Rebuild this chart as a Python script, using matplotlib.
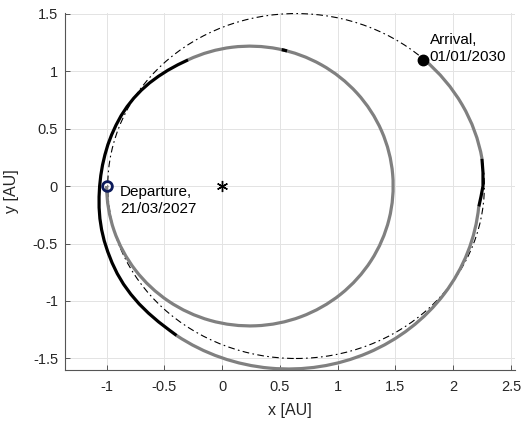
import matplotlib
matplotlib.use('Agg')
import matplotlib.pyplot as plt
from matplotlib.patches import Ellipse, Arc

plt.rcParams['font.family'] = ['Liberation Sans', 'DejaVu Sans']

# ---- orbits, heliocentric frame [AU] ----
# initial orbit (departure): centre, semi-axes, tilt [deg]
orb0_center = (0.2405, 0.0)
orb0_a, orb0_b, orb0_tilt = 1.24, 1.2166, 0.0
# intermediate orbit after the first burn
orb1_center = (0.565, -0.0266)
orb1_a, orb1_b, orb1_tilt = 1.6635, 1.5644, -2.7
# target orbit
target_center = (0.64, 0.0)
target_a, target_b = 1.63, 1.50

# coast arcs as (start, end) angles on their ellipse [deg]
coast1_span = (180.0, 115.96)   # departure -> burn 1
burn0_span = (74.7, 76.9)       # short burn on the first revolution
coast2_span = (-124.3, -2.56)   # burn 1 -> burn 2
coast3_span = (8.35, 44.8)      # burn 2 -> arrival

# burn 1: perihelion passage, raising the orbit
burn1_x = [-0.2941, -0.3837, -0.4695, -0.5510, -0.6281, -0.6994, -0.7644, -0.8227,
           -0.8741, -0.9180, -0.9561, -0.9886, -1.0142, -1.0350, -1.0500, -1.0600,
           -1.0649, -1.0646, -1.0577, -1.0431, -1.0205, -0.9898, -0.9527, -0.9077,
           -0.8535, -0.7900, -0.7181, -0.6380, -0.5506, -0.4562, -0.3940]
burn1_y = [1.0976, 1.0543, 1.0069, 0.9543, 0.8970, 0.8334, 0.7644, 0.6904,
           0.6120, 0.5300, 0.4458, 0.3598, 0.2718, 0.1825, 0.0919, 0.0000,
           -0.0932, -0.1877, -0.2834, -0.3796, -0.4759, -0.5715, -0.6671, -0.7617,
           -0.8535, -0.9414, -1.0256, -1.1050, -1.1809, -1.2536, -1.3000]

# burn 2: aphelion, matching the target orbit
burn2_x = [2.222, 2.2412, 2.258, 2.2579, 2.2492]
burn2_y = [-0.179, -0.090, 0.000, 0.1183, 0.2364]

dep_xy = (-1.0, 0.0)
arr_xy = (1.742, 1.095)
sun_xy = (0.0, 0.0)
dep_label = 'Departure,\n21/03/2027'
arr_label = 'Arrival,\n01/01/2030'

xticks = [-1, -0.5, 0, 0.5, 1, 1.5, 2, 2.5]
xticklabels = ['-1', '-0.5', '0', '0.5', '1', '1.5', '2', '2.5']
yticks = [-1.5, -1, -0.5, 0, 0.5, 1, 1.5]
yticklabels = ['-1.5', '-1', '-0.5', '0', '0.5', '1', '1.5']

GRAY = '#808080'
NAVY = '#0c1a5a'
TXT = '#262626'
LW = 2.3

fig = plt.figure(figsize=(5.24, 4.26), dpi=100)
ax = fig.add_axes([0.1240, 0.1315, 0.8588, 0.8380])

ax.add_patch(Ellipse(target_center, 2 * target_a, 2 * target_b, fill=False,
                     edgecolor='k', lw=0.8, linestyle=(0, (6, 3, 1.5, 3)), zorder=2))


def orbit_arc(center, a, b, tilt, span, color):
    ax.add_patch(Arc(center, 2 * a, 2 * b, angle=tilt, theta1=span[0], theta2=span[1],
                     edgecolor=color, lw=LW, capstyle='butt', zorder=3))


orbit_arc(orb0_center, orb0_a, orb0_b, orb0_tilt, coast1_span, GRAY)
orbit_arc(orb0_center, orb0_a, orb0_b, orb0_tilt, burn0_span, 'k')
orbit_arc(orb1_center, orb1_a, orb1_b, orb1_tilt, coast2_span, GRAY)
orbit_arc(target_center, target_a, target_b, 0.0, coast3_span, GRAY)
ax.plot(burn1_x, burn1_y, color='k', lw=LW, solid_capstyle='butt', zorder=4)
ax.plot(burn2_x, burn2_y, color='k', lw=LW, solid_capstyle='butt', zorder=4)

ax.plot(*sun_xy, marker=(6, 2, 0), color='k', ms=8, mew=1.0, zorder=5)
ax.plot(*dep_xy, marker='o', mfc='none', mec=NAVY, ms=7, mew=2.0, zorder=6)
ax.plot(*arr_xy, marker='o', color='k', ms=7.5, zorder=6)

ax.text(-0.885, -0.125, dep_label, fontsize=11, color='k', va='center', ha='left',
        linespacing=1.25, zorder=7)
ax.text(1.797, 1.197, arr_label, fontsize=11, color='k', va='center', ha='left',
        linespacing=1.25, zorder=7)

ax.set_xlim(-1.36, 2.535)
ax.set_ylim(-1.6, 1.505)
ax.set_xticks(xticks)
ax.set_xticklabels(xticklabels)
ax.set_yticks(yticks)
ax.set_yticklabels(yticklabels)
ax.grid(True, color='#e3e3e3', lw=0.7)
ax.set_axisbelow(True)
for s in ['top', 'right']:
    ax.spines[s].set_visible(False)
for s in ['left', 'bottom']:
    ax.spines[s].set_color('#555555')
    ax.spines[s].set_linewidth(0.8)
ax.tick_params(direction='in', length=3.5, width=0.7, color='#555555',
               labelsize=10.5, labelcolor=TXT)
ax.tick_params(axis='x', pad=7)
ax.tick_params(axis='y', pad=5)
ax.set_xlabel('x [AU]', fontsize=11.5, color=TXT, labelpad=7)
ax.set_ylabel('y [AU]', fontsize=11.5, color=TXT, labelpad=10)

fig.savefig('out.png', dpi=100)
